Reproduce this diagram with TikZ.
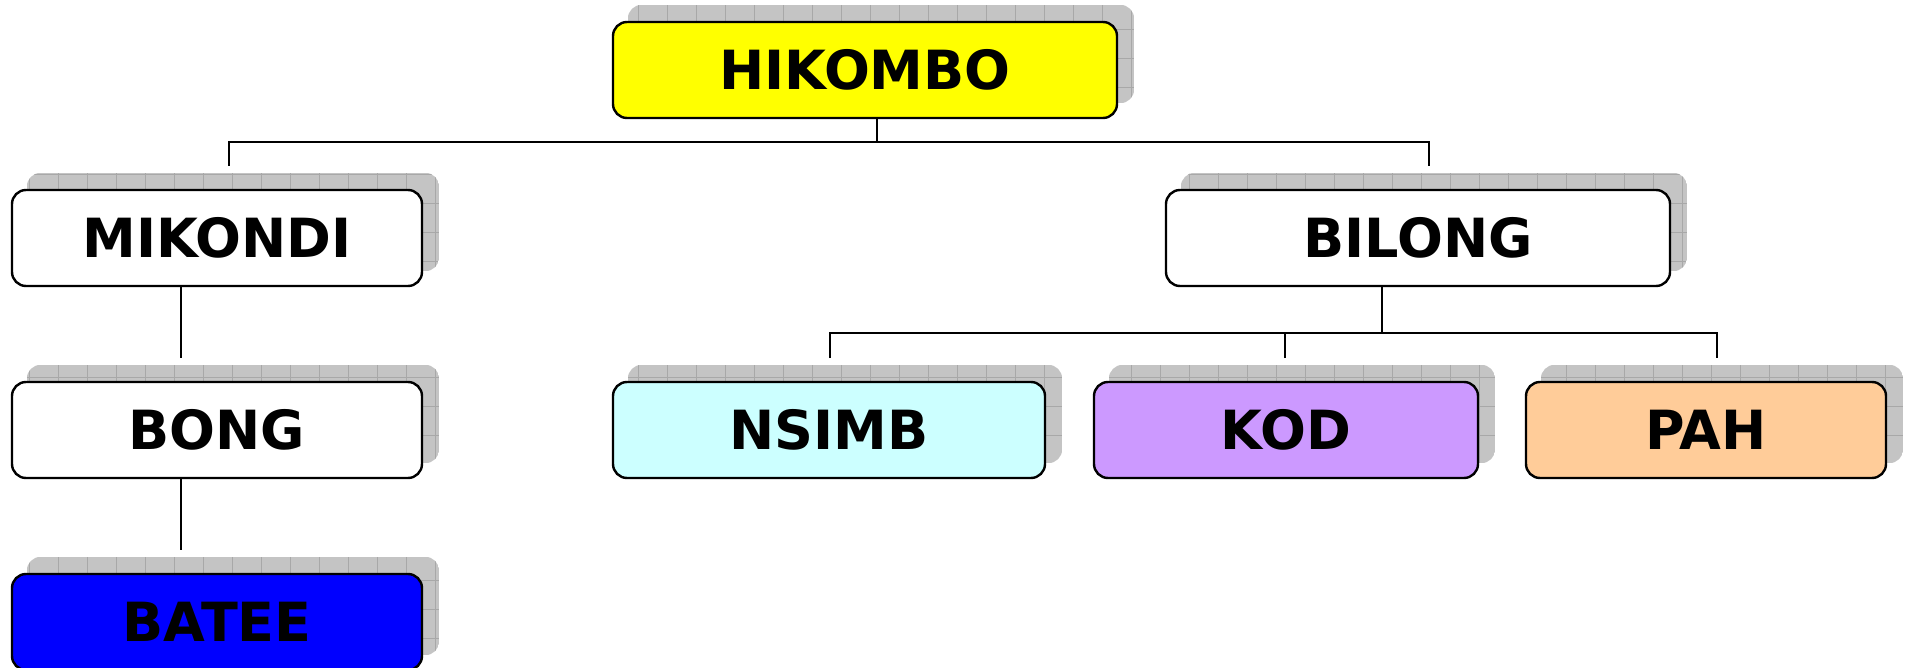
\documentclass[tikz,border=0pt]{standalone}
\usepackage{fontspec}
\setmainfont{DejaVu Sans}
\usetikzlibrary{calc,backgrounds}
\definecolor{shadowgray}{RGB}{196,196,196}
\definecolor{gridgray}{RGB}{168,168,168}
\definecolor{hikyellow}{RGB}{255,255,0}
\definecolor{nsimbcyan}{RGB}{204,255,255}
\definecolor{kodpurple}{RGB}{204,153,255}
\definecolor{pahorange}{RGB}{255,204,153}
\definecolor{bateeblue}{RGB}{0,0,255}
\tikzset{
  orgbox/.style={draw=black, line width=2.4pt, rounded corners=14pt, minimum height=96pt,
    inner sep=0pt, font=\fontsize{54}{60}\selectfont\bfseries, text=black},
  conn/.style={draw=black, line width=2pt},
}
\begin{document}
\begin{tikzpicture}[x=1pt,y=-1pt]
\useasboundingbox (0,0) rectangle (1908,668);
\node[orgbox, fill=hikyellow, minimum width=504pt] (hik) at (865,70) {HIKOMBO};
\node[orgbox, fill=white, minimum width=410pt] (mik) at (217,238) {MIKONDI};
\node[orgbox, fill=white, minimum width=504pt] (bil) at (1418,238) {BILONG};
\node[orgbox, fill=white, minimum width=410pt] (bong) at (217,430) {BONG};
\node[orgbox, fill=nsimbcyan, minimum width=432pt] (nsimb) at (829,430) {NSIMB};
\node[orgbox, fill=kodpurple, minimum width=384pt] (kod) at (1286,430) {KOD};
\node[orgbox, fill=pahorange, minimum width=360pt] (pah) at (1706,430) {PAH};
\node[orgbox, fill=bateeblue, minimum width=410pt] (batee) at (217,622) {BATEE};
\begin{scope}[on background layer]
\foreach \n in {hik,mik,bil,bong,nsimb,kod,pah,batee}{
  \begin{scope}
    \clip[rounded corners=14pt] ($(\n.south west)+(16pt,16pt)$) rectangle ($(\n.north east)+(16pt,16pt)$);
    \fill[shadowgray] ($(\n.south west)+(16pt,16pt)$) rectangle ($(\n.north east)+(16pt,16pt)$);
    \draw[gridgray, line width=0.7pt, step=29pt] ($(\n.south west)+(16pt,16pt)$) grid ($(\n.north east)+(16pt,16pt)$);
  \end{scope}
}
\end{scope}
\coordinate (hj) at (877,142);
\coordinate (mt) at (229,166);
\coordinate (bt) at (1429,166);
\draw[conn] (hik.south -| hj) -- (hj);
\draw[conn] (mt) |- (hj) -| (bt);
\coordinate (mb) at (181,358);
\draw[conn] (mik.south -| mb) -- (mb);
\coordinate (bb) at (181,550);
\draw[conn] (bong.south -| bb) -- (bb);
\coordinate (bj) at (1382,333);
\coordinate (n1) at (830,358);
\coordinate (k1) at (1285,358);
\coordinate (p1) at (1717,358);
\draw[conn] (bil.south -| bj) -- (bj);
\draw[conn] (n1) |- (bj) -| (p1);
\draw[conn] (k1) -- (k1 |- bj);
\end{tikzpicture}
\end{document}
